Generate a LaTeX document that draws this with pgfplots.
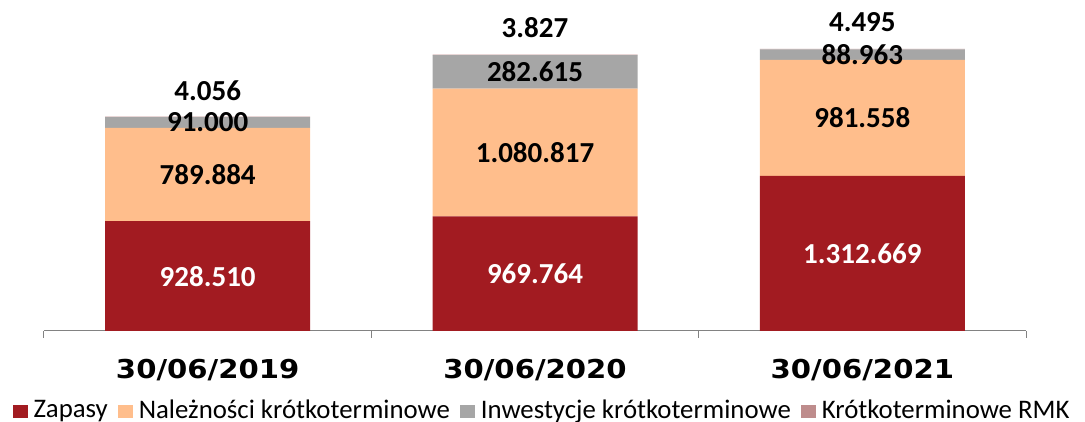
\documentclass[border=0pt]{standalone}
\usepackage{fontspec}
\setmainfont{Carlito}
\newfontfamily\dejavu[FakeStretch=1.12]{DejaVu Sans}
\usepackage{pgfplots}
\pgfplotsset{compat=1.18}
\definecolor{zap}{RGB}{162,27,33}
\definecolor{nal}{RGB}{255,190,140}
\definecolor{inw}{RGB}{166,166,166}
\definecolor{rmk}{RGB}{190,140,140}
\definecolor{axgray}{RGB}{130,130,130}
\tikzset{lab/.style={font=\bfseries\fontsize{29}{32}\selectfont, inner sep=0pt}}
\begin{document}
\begin{tikzpicture}
\begin{axis}[
  at={(0pt,0pt)}, anchor=south west,
  scale only axis, width=982pt, height=326pt,
  ybar stacked, bar width=205pt,
  xmin=-0.5, xmax=2.5, ymin=0, ymax=2757960,
  axis x line*=bottom, axis y line=none,
  xtick={-0.5,0.5,1.5,2.5}, xticklabels={30/06/2019,30/06/2020,30/06/2021},
  x tick label as interval,
  major tick length=7pt, tick align=outside,
  tick style={draw=axgray, line width=1pt},
  x axis line style={draw=axgray, line width=1pt},
  xticklabel style={font=\dejavu\bfseries\fontsize{26}{30}\selectfont, yshift=-18pt},
  legend style={at={(0.5,0)}, anchor=center, xshift=2pt, yshift=-79pt,
    legend columns=4, draw=none, fill=none, inner sep=0pt,
    font=\fontsize{26.8}{29}\selectfont,
    nodes={inner xsep=1pt},
    /tikz/every even column/.append style={column sep=0pt}},
  legend image code/.code={\path (0pt,0pt) (29pt,0pt); \fill[#1] (9pt,-8pt) rectangle (24pt,5pt);},
  clip=false,
]
\addplot[fill=zap, draw=none] coordinates {(0,928510) (1,969764) (2,1312669)};
\addlegendentry{Zapasy}
\addplot[fill=nal, draw=none] coordinates {(0,789884) (1,1080817) (2,981558)};
\addlegendentry{Należności krótkoterminowe}
\addplot[fill=inw, draw=none] coordinates {(0,91000) (1,282615) (2,88963)};
\addlegendentry{Inwestycje krótkoterminowe}
\addplot[fill=rmk, draw=none] coordinates {(0,4056) (1,3827) (2,4495)};
\addlegendentry{Krótkoterminowe RMK}
\coordinate (z0) at (axis cs:0,464255);
\coordinate (z1) at (axis cs:1,484882);
\coordinate (z2) at (axis cs:2,656334);
\coordinate (n0) at (axis cs:0,1323452);
\coordinate (n1) at (axis cs:1,1510172);
\coordinate (n2) at (axis cs:2,1803448);
\coordinate (i0) at (axis cs:0,1763894);
\coordinate (i1) at (axis cs:1,2191888);
\coordinate (i2) at (axis cs:2,2338708);
\coordinate (t0) at (axis cs:0,1813450);
\coordinate (t1) at (axis cs:1,2337023);
\coordinate (t2) at (axis cs:2,2387685);
\end{axis}
\node[lab, text=white] at (z0) {928.510};
\node[lab, text=white] at (z1) {969.764};
\node[lab, text=white] at (z2) {1.312.669};
\node[lab] at (n0) {789.884};
\node[lab] at (n1) {1.080.817};
\node[lab] at (n2) {981.558};
\node[lab] at (i0) {91.000};
\node[lab] at (i1) {282.615};
\node[lab] at (i2) {88.963};
\node[lab, yshift=26pt] at (t0) {4.056};
\node[lab, yshift=27pt] at (t1) {3.827};
\node[lab, yshift=27pt] at (t2) {4.495};
\pgfresetboundingbox
\path[use as bounding box] (-44pt,-91pt) rectangle (1041pt,331pt);
\end{tikzpicture}
\end{document}
